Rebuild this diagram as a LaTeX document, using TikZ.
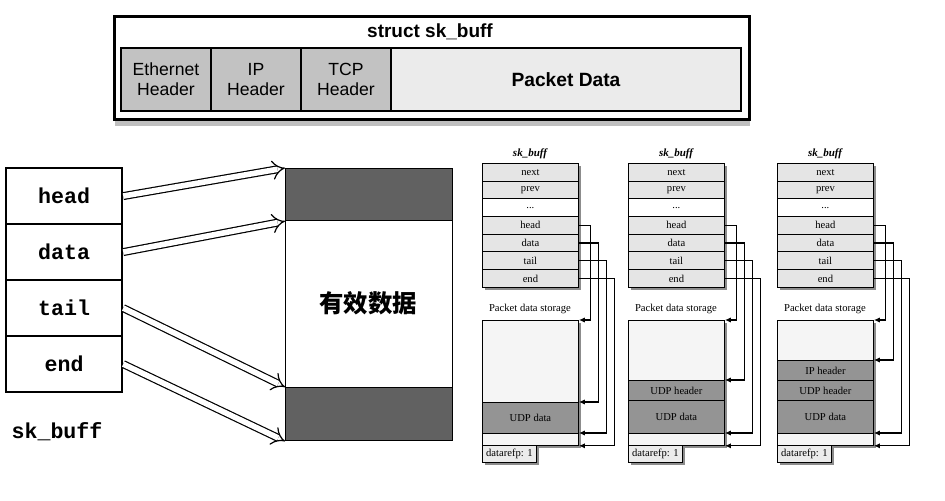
\documentclass[tikz,border=0pt]{standalone}
\usepackage{fontspec}
\setmainfont{Liberation Serif}
\setsansfont{Liberation Sans}
\setmonofont{Liberation Mono}
\newfontfamily\cjk{Noto Sans CJK SC}
\usetikzlibrary{arrows.meta,shadows}

\begin{document}
\begin{tikzpicture}[x=0.5pt, y=-0.5pt,
  box/.style={draw, anchor=north west, inner sep=0pt},
  cell/.style={box, line width=1pt, fill=black!24, minimum width=45pt, minimum height=31.5pt,
    align=center, font=\sffamily\fontsize{8.8}{10}\selectfont},
  field/.style={box, line width=1.1pt, fill=white, minimum width=58pt, minimum height=28pt,
    font=\ttfamily\bfseries\fontsize{10.8}{12}\selectfont},
  band/.style={box, line width=0.6pt, fill=black!62, minimum width=83.5pt},
  dbl/.style={double, double distance=2.8pt, line width=0.6pt, -{Implies[scale=1.4]}},
  row/.style={box, line width=0.4pt, fill=black!10, minimum width=48pt, minimum height=8.85pt,
    font=\fontsize{5.3}{6}\selectfont},
  sec/.style={box, line width=0.4pt, minimum width=48pt, font=\fontsize{5.3}{6}\selectfont},
  udp/.style={sec, fill=black!42},
  ref/.style={box, line width=0.4pt, fill=black!8, minimum width=27pt, minimum height=8.5pt,
    font=\fontsize{5.3}{6}\selectfont},
  lbl/.style={inner sep=0pt, font=\fontsize{5.3}{6}\selectfont},
  ttl/.style={inner sep=0pt, font=\bfseries\itshape\fontsize{5.5}{6}\selectfont},
  shd/.style={fill=black!45},
  ptr/.style={line width=0.6pt, -{Latex[length=3pt,width=2.6pt]}}]
  \useasboundingbox (0,0) rectangle (945,501);

  % struct sk_buff
  \node[box, line width=1.5pt, fill=white, minimum width=317.5pt, minimum height=51.5pt,
    drop shadow={shadow xshift=0pt, shadow yshift=-3.5pt, opacity=0.5}] (sk) at (113,15) {};
  \node[font=\sffamily\bfseries\fontsize{9.5}{11}\selectfont] (sktitle) at (430,32) {struct sk\_buff};
  \node[cell] (eth) at (120,47) {Ethernet\\Header};
  \node[cell] (ip) at (210,47) {IP\\Header};
  \node[cell] (tcp) at (300,47) {TCP\\Header};
  \node[cell, fill=black!8, minimum width=175pt, font=\sffamily\bfseries\fontsize{9.6}{11}\selectfont] (pdata) at (390,47) {Packet Data};

  % pointers into the buffer
  \node[field] (head) at (5,167) {head};
  \node[field] (data) at (5,223) {data};
  \node[field] (tail) at (5,279) {tail};
  \node[field] (end) at (5,335) {end};
  \node[font=\ttfamily\bfseries\fontsize{10.8}{12}\selectfont] (skname) at (57,432) {sk\_buff};
  \node[box, line width=0.6pt, fill=white, minimum width=83.5pt, minimum height=136pt] (buf) at (285,168) {};
  \node[band, minimum height=26pt] (top) at (285,168) {};
  \node[band, minimum height=26.5pt] (bot) at (285,387) {};
  \node[font=\cjk\bfseries\fontsize{12.2}{14}\selectfont] (valid) at (368,303) {有效数据};
  \draw[dbl] (head.east) -- (top.north west);
  \draw[dbl] (data.east) -- (top.south west);
  \draw[dbl] (tail.east) -- (bot.north west);
  \draw[dbl] (end.east) -- (bot.south west);

  % first sk_buff
  \fill[shd] (485,166) rectangle (581,290);
  \node[ttl] (t1) at (530,154) {sk\_buff};
  \node[row] (n1) at (482,163) {next};
  \node[row] (p1) at (482,180.7) {prev};
  \node[row, fill=white] (d1) at (482,198.4) {...};
  \node[row] (h1) at (482,216.1) {head};
  \node[row] (a1) at (482,233.8) {data};
  \node[row] (l1) at (482,251.5) {tail};
  \node[row] (e1) at (482,269.2) {end};
  \node[lbl] (ps1) at (530,309) {Packet data storage};
  \fill[shd] (485,323) rectangle (581,448);
  \fill[shd] (485,448) rectangle (539,465);
  \node[sec, fill=black!4, minimum height=41pt] (s1a) at (482,320) {};
  \node[udp, minimum height=15.5pt] (s1b) at (482,402) {UDP data};
  \node[sec, fill=black!4, minimum height=6pt] (s1c) at (482,433) {};
  \node[ref] (r1) at (482,445) {datarefp: 1};
  \draw[ptr] (h1.east) -- ++(12,0) |- (s1a.north east);
  \draw[ptr] (a1.east) -- ++(20,0) |- (s1b.north east);
  \draw[ptr] (l1.east) -- ++(28,0) |- (s1c.north east);
  \draw[ptr] (e1.east) -- ++(36,0) |- (s1c.south east);

  % second sk_buff
  \fill[shd] (631,166) rectangle (727,290);
  \node[ttl] (t2) at (676,154) {sk\_buff};
  \node[row] (n2) at (628,163) {next};
  \node[row] (p2) at (628,180.7) {prev};
  \node[row, fill=white] (d2) at (628,198.4) {...};
  \node[row] (h2) at (628,216.1) {head};
  \node[row] (a2) at (628,233.8) {data};
  \node[row] (l2) at (628,251.5) {tail};
  \node[row] (e2) at (628,269.2) {end};
  \node[lbl] (ps2) at (676,309) {Packet data storage};
  \fill[shd] (631,323) rectangle (727,448);
  \fill[shd] (631,448) rectangle (685,465);
  \node[sec, fill=black!4, minimum height=30pt] (s2a) at (628,320) {};
  \node[udp, minimum height=10pt] (s2b) at (628,380) {UDP header};
  \node[udp, minimum height=16.5pt] (s2c) at (628,400) {UDP data};
  \node[sec, fill=black!4, minimum height=6pt] (s2d) at (628,433) {};
  \node[ref] (r2) at (628,445) {datarefp: 1};
  \draw[ptr] (h2.east) -- ++(12,0) |- (s2a.north east);
  \draw[ptr] (a2.east) -- ++(20,0) |- (s2b.north east);
  \draw[ptr] (l2.east) -- ++(28,0) |- (s2d.north east);
  \draw[ptr] (e2.east) -- ++(36,0) |- (s2d.south east);

  % third sk_buff
  \fill[shd] (780,166) rectangle (876,290);
  \node[ttl] (t3) at (825,154) {sk\_buff};
  \node[row] (n3) at (777,163) {next};
  \node[row] (p3) at (777,180.7) {prev};
  \node[row, fill=white] (d3) at (777,198.4) {...};
  \node[row] (h3) at (777,216.1) {head};
  \node[row] (a3) at (777,233.8) {data};
  \node[row] (l3) at (777,251.5) {tail};
  \node[row] (e3) at (777,269.2) {end};
  \node[lbl] (ps3) at (825,309) {Packet data storage};
  \fill[shd] (780,323) rectangle (876,448);
  \fill[shd] (780,448) rectangle (834,465);
  \node[sec, fill=black!4, minimum height=20pt] (s3a) at (777,320) {};
  \node[udp, minimum height=10pt] (s3b) at (777,360) {IP header};
  \node[udp, minimum height=10pt] (s3c) at (777,380) {UDP header};
  \node[udp, minimum height=16.5pt] (s3d) at (777,400) {UDP data};
  \node[sec, fill=black!4, minimum height=6pt] (s3e) at (777,433) {};
  \node[ref] (r3) at (777,445) {datarefp: 1};
  \draw[ptr] (h3.east) -- ++(12,0) |- (s3a.north east);
  \draw[ptr] (a3.east) -- ++(20,0) |- (s3b.north east);
  \draw[ptr] (l3.east) -- ++(28,0) |- (s3e.north east);
  \draw[ptr] (e3.east) -- ++(36,0) |- (s3e.south east);
\end{tikzpicture}
\end{document}
